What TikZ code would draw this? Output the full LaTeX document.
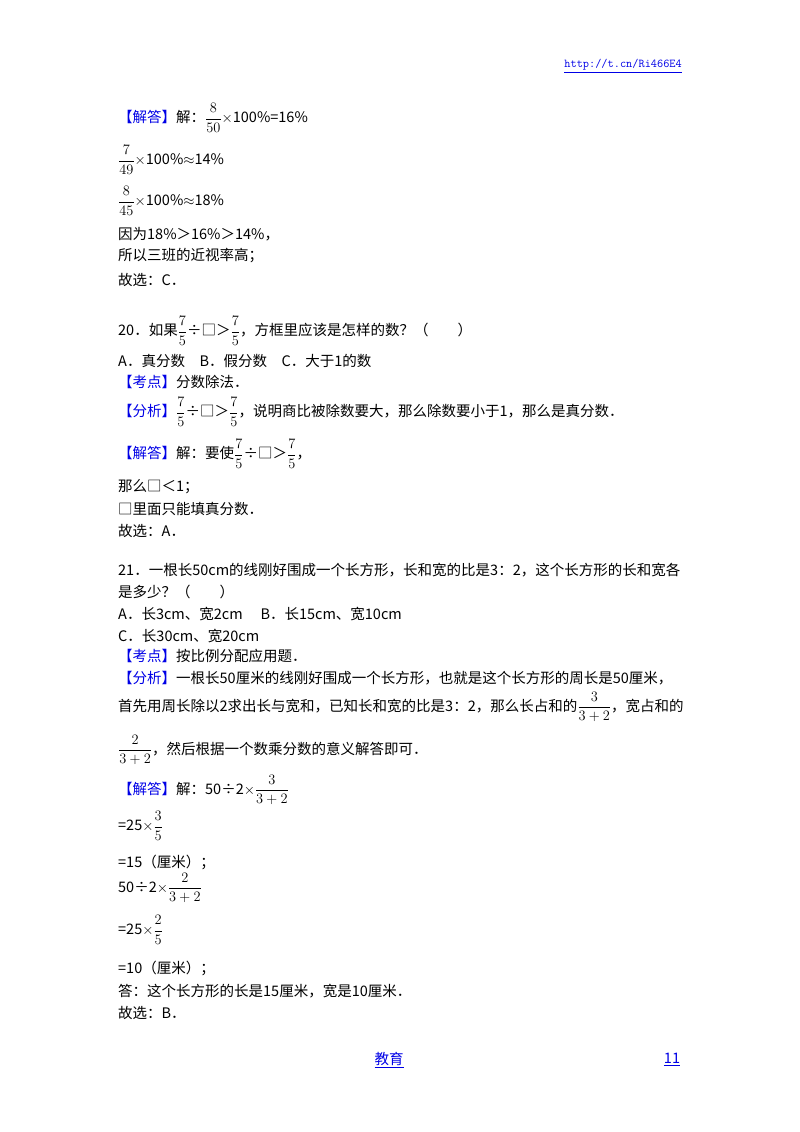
\documentclass[tikz,border=0pt]{standalone}
\usepackage{fontspec}
\setmainfont{Noto Sans CJK SC}
\usepackage{amsmath}
\definecolor{lb}{RGB}{0,0,230}
\newcommand{\tg}[1]{\textcolor{lb}{【#1】}}
\newcommand{\fr}[2]{$\dfrac{#1}{#2}$}
\begin{document}
\begin{tikzpicture}[x=1pt,y=-1pt,
  ln/.style={anchor=west,inner sep=0pt,font=\fontsize{14.5}{17}\selectfont}]
\useasboundingbox (0,0) rectangle (800,1132);
\node[ln,font=\ttfamily\fontsize{12}{14}\selectfont,text=lb,anchor=east] (url) at (682,66) {\underline{http://t.cn/Ri466E4}};
\node[ln] (a1) at (118,118) {\tg{解答}解：\fr{8}{50}$\times$100\%=16\%};
\node[ln] (a2) at (118,160) {\fr{7}{49}$\times$100\%$\approx$14\%};
\node[ln] (a3) at (118,201) {\fr{8}{45}$\times$100\%$\approx$18\%};
\node[ln] (a4) at (118,234) {因为18\%＞16\%＞14\%，};
\node[ln] (a5) at (118,256) {所以三班的近视率高；};
\node[ln] (a6) at (118,280) {故选：C．};
\node[ln] (b1) at (118,331) {20．如果\fr{7}{5}÷□＞\fr{7}{5}，方框里应该是怎样的数？（　　）};
\node[ln] (b2) at (118,361) {A．真分数　B．假分数　C．大于1的数};
\node[ln] (b3) at (118,382) {\tg{考点}分数除法．};
\node[ln] (b4) at (118,412) {\tg{分析}\fr{7}{5}÷□＞\fr{7}{5}，说明商比被除数要大，那么除数要小于1，那么是真分数．};
\node[ln] (b5) at (118,454) {\tg{解答}解：要使\fr{7}{5}÷□＞\fr{7}{5}，};
\node[ln] (b6) at (118,487) {那么□＜1；};
\node[ln] (b7) at (118,509) {□里面只能填真分数．};
\node[ln] (b8) at (118,531) {故选：A．};
\node[ln] (c1) at (118,570) {21．一根长50cm的线刚好围成一个长方形，长和宽的比是3：2，这个长方形的长和宽各};
\node[ln] (c2) at (118,592) {是多少？（　　）};
\node[ln] (c3) at (118,614) {A．长3cm、宽2cm　 B．长15cm、宽10cm};
\node[ln] (c4) at (118,636) {C．长30cm、宽20cm};
\node[ln] (c5) at (118,656) {\tg{考点}按比例分配应用题．};
\node[ln] (c6) at (118,678) {\tg{分析}一根长50厘米的线刚好围成一个长方形，也就是这个长方形的周长是50厘米，};
\node[ln] (c7) at (118,707) {首先用周长除以2求出长与宽和，已知长和宽的比是3：2，那么长占和的\fr{3}{3+2}，宽占和的};
\node[ln] (c8) at (118,750) {\fr{2}{3+2}，然后根据一个数乘分数的意义解答即可．};
\node[ln] (d1) at (118,790) {\tg{解答}解：50÷2$\times$\fr{3}{3+2}};
\node[ln] (d2) at (118,826) {=25$\times$\fr{3}{5}};
\node[ln] (d3) at (118,862) {=15（厘米）；};
\node[ln] (d4) at (118,888) {50÷2$\times$\fr{2}{3+2}};
\node[ln] (d5) at (118,930) {=25$\times$\fr{2}{5}};
\node[ln] (d6) at (118,968) {=10（厘米）；};
\node[ln] (d7) at (118,991) {答：这个长方形的长是15厘米，宽是10厘米．};
\node[ln] (d8) at (118,1013) {故选：B．};
\node[ln,anchor=center,text=lb] (f1) at (389,1060) {\underline{教育}};
\node[ln,anchor=center,text=lb] (f2) at (672,1060) {\underline{11}};
\end{tikzpicture}
\end{document}
